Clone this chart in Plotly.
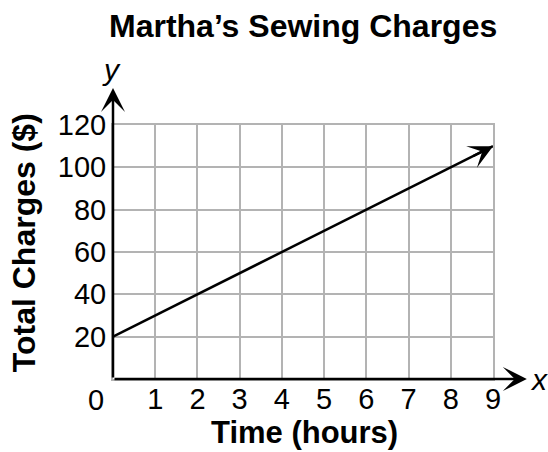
import plotly.graph_objects as go

# Data
hours = [0, 9]
charges = [20, 110]
x_ticks = [1, 2, 3, 4, 5, 6, 7, 8, 9]
y_ticks = [20, 40, 60, 80, 100, 120]

FONT = "Liberation Sans, Arial, Helvetica, sans-serif"
GRID = "#b3b3b3"

fig = go.Figure()
fig.add_trace(go.Scatter(x=hours, y=charges, mode="lines",
                         line=dict(color="black", width=2.5),
                         hoverinfo="skip", showlegend=False))

fig.update_layout(
    width=548, height=452,
    margin=dict(l=113, r=55, t=125, b=73, autoexpand=False),
    paper_bgcolor="white", plot_bgcolor="white",
    font=dict(family=FONT, color="black"),
    showlegend=False,
    xaxis=dict(range=[0, 9], tickvals=x_ticks, ticktext=[str(v) for v in x_ticks],
               showgrid=True, gridcolor=GRID, gridwidth=2,
               showline=True, mirror=True, linecolor=GRID, linewidth=2,
               zeroline=False, ticks="", tickfont=dict(size=29, family=FONT),
               ticklabelstandoff=-7, fixedrange=True),
    yaxis=dict(range=[0, 120], tickvals=y_ticks, ticktext=[str(v) for v in y_ticks],
               showgrid=True, gridcolor=GRID, gridwidth=2,
               showline=True, mirror=True, linecolor=GRID, linewidth=2,
               zeroline=False, ticks="", tickfont=dict(size=29, family=FONT),
               ticklabelstandoff=-1, fixedrange=True),
)

C = dict(xanchor="center", yanchor="middle", showarrow=False)
ann = []
# axis arrows
ann.append(dict(xref="x domain", yref="y domain", axref="x domain", ayref="y domain",
                x=1.089, y=0, ax=0, ay=0, text="", showarrow=True,
                arrowhead=3, arrowsize=1.6, arrowwidth=2.5, arrowcolor="black"))
ann.append(dict(xref="x domain", yref="y domain", axref="x domain", ayref="y domain",
                x=0, y=1.146, ax=0, ay=0, text="", showarrow=True,
                arrowhead=3, arrowsize=1.6, arrowwidth=2.5, arrowcolor="black"))
# line arrowhead at end of data line
ann.append(dict(xref="x", yref="y", axref="x", ayref="y",
                x=hours[-1], y=charges[-1], ax=hours[-1] - 0.5, ay=charges[-1] - 5,
                text="", showarrow=True,
                arrowhead=3, arrowsize=1.6, arrowwidth=2.5, arrowcolor="black"))
# origin label
ann.append(dict(xref="x", yref="y", x=0, y=0, xshift=-17, yshift=-21, text="0",
                font=dict(size=29, family=FONT), **C))
# axis letters
ann.append(dict(xref="paper", yref="paper", x=1.12, y=0, text="<i>x</i>",
                font=dict(size=30, family=FONT), **C))
ann.append(dict(xref="paper", yref="paper", x=-0.003, y=1.22, text="<i>y</i>",
                font=dict(size=30, family=FONT), **C))
# titles
ann.append(dict(xref="paper", yref="paper", x=0.5, y=1.39, text="<b>Martha’s Sewing Charges</b>",
                font=dict(size=32, family=FONT), **C))
ann.append(dict(xref="paper", yref="paper", x=0.503, y=-0.212, text="<b>Time (hours)</b>",
                font=dict(size=31, family=FONT), **C))
ann.append(dict(xref="paper", yref="paper", x=-0.234, y=0.535, text="<b>Total Charges ($)</b>",
                textangle=-90, font=dict(size=32, family=FONT), **C))
fig.update_layout(annotations=ann)

fig.write_html("out.html", config={"displayModeBar": False},
               post_script="document.body.style.margin='0';document.body.style.overflow='hidden';")
